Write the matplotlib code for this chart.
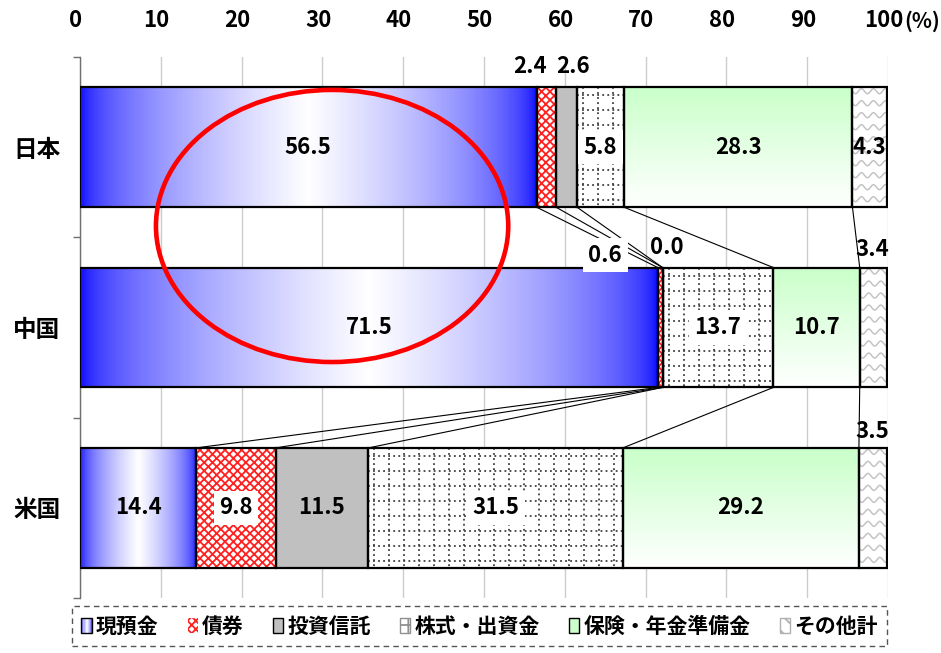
import numpy as np
import matplotlib
matplotlib.use('Agg')
import matplotlib.pyplot as plt
from matplotlib.patches import Rectangle, Ellipse, Patch
from matplotlib.legend_handler import HandlerBase
import matplotlib.transforms as mtransforms

plt.rcParams['font.family'] = ['Noto Sans CJK JP', 'DejaVu Sans']
plt.rcParams['font.weight'] = 'bold'
plt.rcParams['hatch.linewidth'] = 1.3

# ---------------- data ----------------
countries = ['日本', '中国', '米国']
categories = ['現預金', '債券', '投資信託', '株式・出資金', '保険・年金準備金', 'その他計']
japan = [56.5, 2.4, 2.6, 5.8, 28.3, 4.3]
china = [71.5, 0.6, 0.0, 13.7, 10.7, 3.4]
usa = [14.4, 9.8, 11.5, 31.5, 29.2, 3.5]
xticks = [0, 10, 20, 30, 40, 50, 60, 70, 80, 90, 100]
xtick_labels = ['0', '10', '20', '30', '40', '50', '60', '70', '80', '90', '100']

series = [japan, china, usa]

# label placements for small segments (country index, category index) -> (x, y)
outside_labels = {
    (0, 1): (55.7, -0.45),
    (0, 2): (61.0, -0.45),
    (1, 1): (65.0, 0.60),
    (1, 2): (72.6, 0.555),
    (1, 5): (98.1, 0.565),
    (2, 5): (98.1, 1.575),
}
boxed_labels = {(0, 3), (1, 3), (2, 1), (2, 3), (1, 1)}

# ---------------- figure ----------------
W, H = 941, 653
fig = plt.figure(figsize=(W / 100, H / 100), dpi=100)
ax = fig.add_axes([80 / W, 1 - 598 / H, 808 / W, 541 / H])

bar_h = 0.665
sx = 808 / 100.0   # px per x unit
sy = 541 / 3.0     # px per y unit


def blue_rgb(u):
    t = 1 - np.abs(2 * u - 1)
    w = np.sqrt(np.clip(t, 0, 1))
    return np.stack([w, w, np.ones_like(w)], axis=-1)


def add_waves(rect, x0, w, yc):
    top = yc - bar_h / 2
    n_rows = int(bar_h * sy / 12) + 2
    xs = np.linspace(x0, x0 + w, 200)
    for k in range(n_rows):
        yr = top + (k * 12 + 4) / sy
        ys = yr + 2.5 * np.sin(2 * np.pi * (xs - x0) * sx / 12.0) / sy
        ln, = ax.plot(xs, ys, color='#c4c4c4', lw=1.1, zorder=2.5)
        ln.set_clip_path(rect)


def add_dotgrid(rect, x0, w, yc):
    top = yc - bar_h / 2
    step = 15
    nx = int(w * sx / step) + 2
    ny = int(bar_h * sy / step) + 2
    for k in range(nx):
        xv = x0 + (k * step + 6) / sx
        ln, = ax.plot([xv, xv], [top, top + bar_h], color='#404040', lw=1.3,
                      ls=(0, (1, 1.8)), zorder=2.5)
        ln.set_clip_path(rect)
    for k in range(ny):
        yv = top + (k * step + 8) / sy
        ln, = ax.plot([x0, x0 + w], [yv, yv], color='#404040', lw=1.3,
                      ls=(0, (1, 1.8)), zorder=2.5)
        ln.set_clip_path(rect)


for ci, vals in enumerate(series):
    lefts = np.concatenate([[0], np.cumsum(vals)[:-1]])
    for k, (v, l) in enumerate(zip(vals, lefts)):
        if k == 0:
            u = np.linspace(0, 1, 400)
            img = blue_rgb(u)[None, :, :]
            ax.imshow(img, extent=(l, l + v, ci + bar_h / 2, ci - bar_h / 2),
                      aspect='auto', interpolation='bilinear', zorder=2)
        elif k == 1:
            ax.barh(ci, v, left=l, height=bar_h, color='white', hatch='xxxx',
                    edgecolor='#ff2020', lw=0, zorder=2)
        elif k == 2:
            ax.barh(ci, v, left=l, height=bar_h, color='#c0c0c0', lw=0, zorder=2)
        elif k == 3:
            b = ax.barh(ci, v, left=l, height=bar_h, color='white', lw=0, zorder=2)
            add_dotgrid(b.patches[0], l, v, ci)
        elif k == 4:
            t = np.linspace(0, 1, 100)
            g = np.stack([0.79 + 0.21 * t, np.ones_like(t), 0.79 + 0.21 * t], axis=-1)
            ax.imshow(g[:, None, :], extent=(l, l + v, ci + bar_h / 2, ci - bar_h / 2),
                      aspect='auto', interpolation='bilinear', zorder=2)
        elif k == 5:
            b = ax.barh(ci, v, left=l, height=bar_h, color='white', lw=0, zorder=2)
            add_waves(b.patches[0], l, v, ci)
        # outline
        ax.barh(ci, v, left=l, height=bar_h, fill=False, edgecolor='black', lw=1.6, zorder=3)

        # value labels
        if (ci, k) in outside_labels:
            x, y = outside_labels[(ci, k)]
        else:
            x, y = l + v / 2, ci
        bbox = None
        if (ci, k) in boxed_labels:
            bbox = dict(boxstyle='square,pad=0.25', facecolor='white', edgecolor='none')
        ax.text(x, y, f'{v:.1f}', ha='center', va='center', fontsize=16,
                fontweight='bold', zorder=7, bbox=bbox)

# connector lines between bars
cums = [np.cumsum(v) for v in series]
for a in range(len(series) - 1):
    for k in range(len(categories) - 1):
        ax.plot([cums[a][k], cums[a + 1][k]], [a + bar_h / 2, a + 1 - bar_h / 2],
                color='black', lw=0.8, zorder=1.5)

# red ellipse highlight
ax.add_patch(Ellipse((31.2, 0.437), 43.6, 1.509, fill=False, edgecolor='#ff0000',
                     lw=3.3, zorder=6))

# axes styling
ax.set_xlim(0, 100)
ax.set_ylim(2.5, -0.5)
ax.xaxis.tick_top()
ax.set_xticks(xticks)
ax.set_xticklabels(xtick_labels)
ax.tick_params(axis='x', length=0, pad=18, labelsize=16)
ax.set_yticks(range(len(countries)))
ax.set_yticklabels(countries)
ax.tick_params(axis='y', which='major', length=0, pad=14, labelsize=17)
ax.set_yticks([-0.5, 0.5, 1.5, 2.5], minor=True)
ax.tick_params(axis='y', which='minor', length=5, width=1, color='#707070', direction='out')
shift = mtransforms.ScaledTranslation(-3 / 72, 0, fig.dpi_scale_trans)
for lab in ax.get_xticklabels():
    lab.set_fontweight('bold')
    lab.set_transform(lab.get_transform() + shift)
for lab in ax.get_yticklabels():
    lab.set_fontweight('bold')
ax.grid(axis='x', color='#cccccc', lw=1, zorder=0.5)
ax.set_axisbelow(True)
for s in ['top', 'right', 'bottom']:
    ax.spines[s].set_visible(False)
ax.spines['left'].set_color('#707070')
ax.spines['left'].set_linewidth(1)

fig.text(904 / W, 1 - 21 / H, '(%)', ha='left', va='center', fontsize=15, fontweight='bold')


# ---------------- legend ----------------
class GradHandler(HandlerBase):
    def create_artists(self, legend, orig_handle, xdescent, ydescent, width, height,
                       fontsize, trans):
        arts = []
        n = 10
        cols = blue_rgb((np.arange(n) + 0.5) / n)
        for i in range(n):
            arts.append(Rectangle((-xdescent + i * width / n, -ydescent), width / n, height,
                                  facecolor=cols[i], edgecolor='none', transform=trans))
        arts.append(Rectangle((-xdescent, -ydescent), width, height, facecolor='none',
                              edgecolor='black', lw=1, transform=trans))
        return arts


h_cash = Patch(label=categories[0])
handles = [
    h_cash,
    Patch(facecolor='white', edgecolor='#ff2020', hatch='xxxx', lw=0, label=categories[1]),
    Patch(facecolor='#c0c0c0', edgecolor='black', lw=1, label=categories[2]),
    Patch(facecolor='white', edgecolor='#909090', hatch='+', lw=1, label=categories[3]),
    Patch(facecolor='#ccffcc', edgecolor='black', lw=1, label=categories[4]),
    Patch(facecolor='white', edgecolor='#b0b0b0', hatch='\\\\', lw=1, label=categories[5]),
]
leg = fig.legend(handles=handles, loc='upper left', ncol=6,
                 bbox_to_anchor=(72 / W, 1 - 607 / H, 815 / W, 0.001), mode='expand',
                 handler_map={h_cash: GradHandler()},
                 prop={'size': 15, 'weight': 'bold'}, handlelength=0.5, handleheight=0.75,
                 handletextpad=0.2, columnspacing=1.0, borderpad=0.45, borderaxespad=0,
                 fancybox=False, framealpha=1)
fr = leg.get_frame()
fr.set_edgecolor('#555555')
fr.set_linestyle((0, (4, 3)))
fr.set_linewidth(1)

fig.savefig('out.png', dpi=100)
